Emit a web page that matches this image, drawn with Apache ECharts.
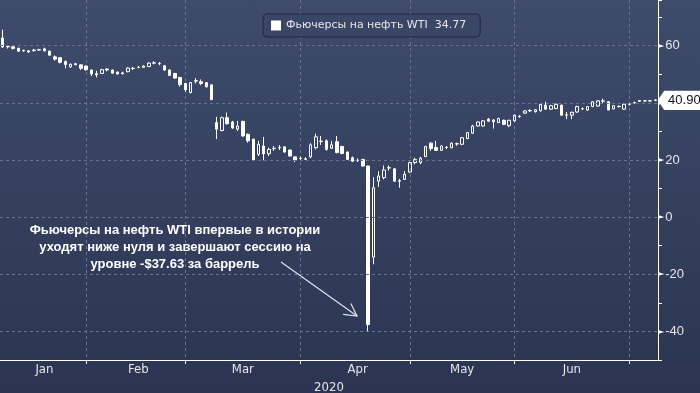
<!DOCTYPE html>
<html>
<head>
<meta charset="utf-8">
<script src="https://cdn.jsdelivr.net/npm/echarts@6/dist/echarts.min.js"></script>
<style>
html,body{margin:0;padding:0;}
#chart{width:700px;height:393px;background:linear-gradient(180deg,#3e4b6b 0%,#34405e 50%,#2b3553 100%);}
</style>
</head>
<body>
<div id="chart"></div>
<script>
// ---- data ----
const dates = [
'2020-01-08','2020-01-09','2020-01-10','2020-01-13','2020-01-14','2020-01-15','2020-01-16','2020-01-17','2020-01-21','2020-01-22','2020-01-23','2020-01-24','2020-01-27','2020-01-28','2020-01-29','2020-01-30','2020-01-31',
'2020-02-03','2020-02-04','2020-02-05','2020-02-06','2020-02-07','2020-02-10','2020-02-11','2020-02-12','2020-02-13','2020-02-14','2020-02-18','2020-02-19','2020-02-20','2020-02-21','2020-02-24','2020-02-25','2020-02-26','2020-02-27','2020-02-28',
'2020-03-02','2020-03-03','2020-03-04','2020-03-05','2020-03-06','2020-03-09','2020-03-10','2020-03-11','2020-03-12','2020-03-13','2020-03-16','2020-03-17','2020-03-18','2020-03-19','2020-03-20','2020-03-23','2020-03-24','2020-03-25','2020-03-26','2020-03-27','2020-03-30','2020-03-31',
'2020-04-01','2020-04-02','2020-04-03','2020-04-06','2020-04-07','2020-04-08','2020-04-09','2020-04-13','2020-04-14','2020-04-15','2020-04-16','2020-04-17','2020-04-20','2020-04-21','2020-04-22','2020-04-23','2020-04-24','2020-04-27','2020-04-28','2020-04-29','2020-04-30',
'2020-05-01','2020-05-04','2020-05-05','2020-05-06','2020-05-07','2020-05-08','2020-05-11','2020-05-12','2020-05-13','2020-05-14','2020-05-15','2020-05-18','2020-05-19','2020-05-20','2020-05-21','2020-05-22','2020-05-26','2020-05-27','2020-05-28','2020-05-29',
'2020-06-01','2020-06-02','2020-06-03','2020-06-04','2020-06-05','2020-06-08','2020-06-09','2020-06-10','2020-06-11','2020-06-12','2020-06-15','2020-06-16','2020-06-17','2020-06-18','2020-06-19','2020-06-22','2020-06-23','2020-06-24','2020-06-25','2020-06-26','2020-06-29','2020-06-30',
'2020-07-01','2020-07-02','2020-07-06','2020-07-07','2020-07-08'
];
const openVals = [
62.7,59.8,59.6,59.1,58.4,58.2,58.3,58.6,58.9,58.1,56.1,55.8,54.5,52.6,53.7,53.3,52.9,
51.5,50.2,50.3,51.8,51.5,50.8,50.2,50.9,52.0,52.4,52.4,52.7,53.9,53.8,53.0,51.5,50.3,48.9,46.8,
43.6,47.6,47.4,47.1,46.3,33.1,30.3,34.8,33.3,30.8,33.5,29.0,27.3,22.0,24.9,22.2,24.0,24.3,24.6,23.5,21.1,20.5,
20.4,21.1,24.3,26.5,26.7,24.1,26.4,24.7,22.8,20.8,19.8,20.2,17.9,-14.0,12.6,13.8,17.2,16.9,12.7,13.2,15.8,
19.1,19.1,21.2,25.9,24.4,23.4,24.5,24.3,25.7,25.5,27.5,29.4,31.9,31.9,34.3,34.0,33.1,33.9,32.0,33.7,
35.3,36.4,37.2,36.9,37.2,39.2,37.8,38.0,39.2,35.8,35.7,36.8,37.9,37.5,38.7,38.9,40.6,40.4,37.9,38.8,37.8,39.5,
40.0,40.5,40.7,40.7,41.0
];
const closeVals = [
59.6,59.6,59.0,58.1,58.2,57.8,58.5,58.5,58.2,56.7,55.3,54.2,53.4,53.5,53.4,52.1,51.6,
50.1,49.8,51.6,51.5,50.4,50.1,50.5,52.2,52.1,52.5,52.9,53.9,54.0,53.7,51.5,49.6,48.7,46.4,44.6,
47.1,47.8,46.8,45.6,41.1,30.8,34.8,32.7,31.2,31.9,28.4,26.7,20.0,25.5,22.2,23.7,24.1,24.4,22.8,21.4,20.0,20.6,
20.3,25.3,28.1,26.6,23.7,25.3,22.6,22.3,20.2,19.6,19.9,17.9,-37.6,10.3,14.4,16.5,17.3,12.6,12.6,15.0,19.1,
20.2,20.6,24.7,24.0,23.4,24.9,24.4,25.9,25.6,27.8,29.6,31.9,33.3,33.7,33.6,33.4,34.5,32.5,33.9,35.7,
35.2,37.2,37.3,37.6,39.5,37.8,39.0,39.5,35.7,35.7,36.7,38.7,38.0,38.7,40.4,40.7,40.7,37.5,39.0,38.7,39.5,39.5,
40.1,40.8,40.7,40.7,40.9
];
const lowVals = [
59.2,59.0,58.7,57.8,57.9,57.6,57.9,58.3,58.0,56.6,54.8,53.8,52.1,52.3,53.1,51.5,51.3,
49.4,48.9,50.1,51.0,50.3,49.9,49.9,50.7,51.5,52.1,52.3,52.6,53.5,53.2,51.2,49.4,48.4,45.7,43.9,
43.3,46.8,46.2,45.4,41.0,27.3,30.0,32.4,30.9,30.2,28.2,26.1,19.9,21.4,19.9,21.4,23.2,23.5,22.5,21.2,19.3,20.0,
20.0,20.6,23.7,25.3,23.3,23.8,22.3,22.0,20.0,19.3,19.3,17.7,-40.0,-16.5,10.6,13.2,16.3,12.3,10.3,13.0,15.4,
18.5,18.5,21.0,23.2,23.3,23.2,23.8,24.1,25.0,25.2,27.3,29.2,31.7,31.7,33.3,31.0,32.9,32.2,31.5,33.4,
34.8,36.1,36.8,36.6,37.0,37.6,37.5,37.8,35.5,34.3,34.3,36.5,37.5,37.2,38.5,38.7,39.9,37.4,37.7,38.3,37.6,39.1,
39.7,40.3,40.4,40.4,40.6
];
const highVals = [
65.6,60.2,59.8,59.3,58.6,58.3,58.9,58.9,59.3,58.3,56.6,55.9,54.8,53.8,54.0,53.4,53.0,
51.6,51.2,51.9,52.2,51.6,51.0,50.9,52.4,52.6,52.9,53.2,54.2,54.6,54.3,53.2,51.7,50.5,49.0,47.0,
47.3,48.7,48.2,47.3,46.5,35.1,35.2,36.6,33.7,33.7,33.8,29.3,27.4,26.7,28.1,24.3,24.9,25.2,24.8,23.6,21.2,21.2,
20.9,25.9,29.2,28.4,27.2,26.7,28.4,25.0,23.0,21.2,20.5,20.4,18.0,14.0,16.1,18.1,18.1,17.1,13.4,16.1,19.4,
20.8,21.1,25.0,26.3,26.7,25.2,24.8,26.1,26.1,28.0,29.8,32.3,33.5,34.0,34.7,34.3,34.8,34.1,34.1,35.9,
35.7,37.4,37.8,37.8,39.7,40.4,39.3,39.8,39.4,36.8,36.9,39.0,38.4,38.9,40.6,40.9,41.5,40.6,39.2,39.1,39.7,39.9,
40.4,41.0,41.0,41.0,41.2
];
const seriesName = 'Фьючерсы на нефть WTI';
const legendValue = '34.77';
const monthLabels = ['Jan','Feb','Mar','Apr','May','Jun'];
const yearLabel = '2020';
const yMajorTicks = [-40,-20,0,20,40,60];
const annotationLines = [
  'Фьючерсы на нефть WTI впервые в истории',
  'уходят ниже нуля и завершают сессию на',
  'уровне -$37.63 за баррель'
];

// ---- derived ----
const ohlc = dates.map((d,i)=>[openVals[i], closeVals[i], lowVals[i], highVals[i]]);
const monthFirst = {}, monthLast = {};
dates.forEach((d,i)=>{ const m = +d.slice(5,7); if(!(m in monthFirst)) monthFirst[m]=i; monthLast[m]=i; });
const lastMonth = +dates[dates.length-1].slice(5,7);
const endIdx = new Set(Object.keys(monthLast).filter(m=>+m!==lastMonth).map(m=>monthLast[m]));
const labelIdx = {};
monthLabels.forEach((name,k)=>{ const m=k+1; if(m in monthFirst) labelIdx[Math.floor((monthFirst[m]+monthLast[m])/2)] = name; });
const lastClose = closeVals[closeVals.length-1];

const gridCol = '#67738f';
const narrowFont = '"DejaVu Sans Condensed", "Liberation Sans Narrow", "Liberation Sans", sans-serif';
const chart = echarts.init(document.getElementById('chart'), null, {renderer:'canvas'});

// arrow geometry (annotation)
const ax1=281, ay1=262, ax2=357, ay2=316;
const ang = Math.atan2(ay1-ay2, ax1-ax2), hl=14, spread=0.5;
const head = [[ax2+hl*Math.cos(ang-spread), ay2+hl*Math.sin(ang-spread)],[ax2,ay2],[ax2+hl*Math.cos(ang+spread), ay2+hl*Math.sin(ang+spread)]];

chart.setOption({
  animation:false,
  backgroundColor:'transparent',
  grid:{left:0,right:42,top:0,bottom:33,containLabel:false,outerBoundsMode:'none'},
  legend:{
    left:263, top:14, padding:[6,14,6,8],
    backgroundColor:'#3a4665', borderColor:'#1f273d', borderWidth:1, borderRadius:4,
    itemWidth:10, itemHeight:10, icon:'rect',
    data:[{name:seriesName, itemStyle:{color:'#ffffff', borderWidth:0}}],
    formatter: n => n + '  ' + legendValue,
    textStyle:{color:'#e6e6e6', fontSize:11, fontFamily:'DejaVu Sans'}
  },
  xAxis:{
    type:'category', data:dates, boundaryGap:true,
    name:yearLabel, nameLocation:'middle', nameGap:18,
    nameTextStyle:{color:'#e6e6e6', fontSize:13, fontFamily:narrowFont},
    axisLine:{show:true, onZero:false, lineStyle:{color:'#ffffff', width:1}},
    axisTick:{show:true, alignWithLabel:true, length:4, interval:(i)=>endIdx.has(i), lineStyle:{color:'#ffffff'}},
    splitLine:{show:true, alignWithLabel:true, interval:(i)=>endIdx.has(i), lineStyle:{color:gridCol, type:[3,3], width:1}},
    axisLabel:{interval:(i)=>(i in labelIdx), formatter:(v,i)=>labelIdx[i]||'', color:'#e6e6e6', fontSize:13, fontFamily:narrowFont, margin:3}
  },
  yAxis:{
    type:'value', position:'right', min:-50, max:76, interval:10, scale:false,
    axisLine:{show:true, onZero:false, lineStyle:{color:'#ffffff', width:1}},
    axisTick:{show:true, length:4, lineStyle:{color:'#ffffff'}},
    splitLine:{show:false},
    axisLabel:{
      margin:0,
      formatter:v => (yMajorTicks.indexOf(v)>=0) ? '{t|►}{v|'+v+'}' : '',
      rich:{
        t:{fontSize:8, color:'#ffffff', fontFamily:'DejaVu Sans', padding:[0,1,0,0]},
        v:{fontSize:13, color:'#e6e6e6', fontFamily:'Liberation Sans'}
      }
    }
  },
  series:[{
    name:seriesName, type:'candlestick', data:ohlc, barWidth:3,
    itemStyle:{color:'rgba(0,0,0,0)', color0:'#ffffff', borderColor:'#ffffff', borderColor0:'#ffffff', borderWidth:1},
    markLine:{
      silent:true, symbol:'none', label:{show:false},
      lineStyle:{color:gridCol, type:[3,3], width:1},
      data: yMajorTicks.map(v=>({yAxis:v}))
    },
    markPoint:{
      silent:true,
      data:[{coord:[dates[dates.length-1], lastClose], value:lastClose}],
      symbol:'path://M0,9 L6,0 L44,0 L44,18 L6,18 Z',
      symbolSize:[44,18], symbolOffset:[26,0],
      itemStyle:{color:'#ffffff', borderColor:'#ffffff'},
      label:{show:true, position:'inside', offset:[3,0], formatter:p=>p.value.toFixed(2), color:'#111111', fontSize:13, fontFamily:'Liberation Sans'}
    }
  }],
  graphic:[
    {type:'text', x:175, y:222, silent:true,
     style:{text:annotationLines.join('\n'), fill:'#ffffff', font:'bold 13px "Liberation Sans"', align:'center', lineHeight:17}},
    {type:'line', silent:true, shape:{x1:ax1,y1:ay1,x2:ax2,y2:ay2}, style:{stroke:'#dfe3ec', lineWidth:1.2}},
    {type:'polyline', silent:true, shape:{points:head}, style:{stroke:'#dfe3ec', lineWidth:1.2, fill:null}}
  ]
});
</script>
</body>
</html>
